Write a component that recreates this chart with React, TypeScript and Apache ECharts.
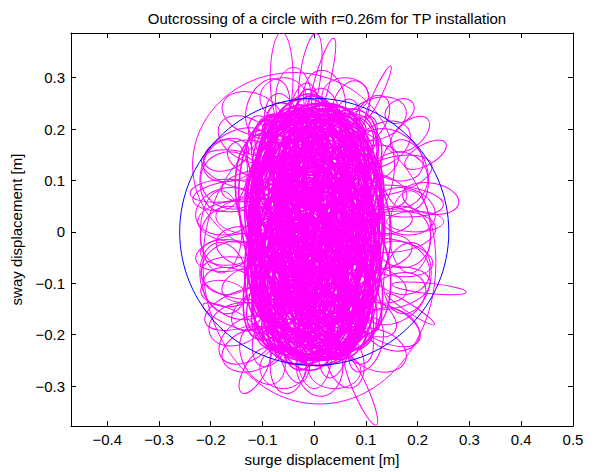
import React, { useEffect, useRef } from "react";
import * as echarts from "echarts";

const titleText = "Outcrossing of a circle with r=0.26m for TP installation";
const xName = "surge displacement [m]";
const yName = "sway displacement [m]";

const xTicks = [-0.4, -0.3, -0.2, -0.1, 0, 0.1, 0.2, 0.3, 0.4, 0.5];
const yTicks = [-0.3, -0.2, -0.1, 0, 0.1, 0.2, 0.3];
const xRange = [-0.47, 0.5];
const yRange = [-0.378, 0.387];

// circle: [centre surge, centre sway, radius] in m
const circle = [[0, 0, 0.26]];

// loops of the motion:
// [centre surge mm, centre sway mm, half-width mm, half-height mm, tilt deg]
const coreLoops: number[][] = [
  [0,10,60,120,5],[-20,-30,90,180,-10],[15,20,40,90,20],[-10,50,100,150,-5],[25,-40,70,160,15],[-35,5,50,200,0],
  [10,-70,80,130,-20],[-25,60,30,70,10],[40,30,95,190,5],[-15,-10,110,210,-15],[5,80,55,110,25],[-40,-60,65,140,10],
  [20,-100,45,100,-5],[-5,120,75,100,15],[-30,-120,85,110,-25],[35,90,60,140,-10],[0,-20,35,60,30],[-50,30,90,170,20],
  [30,-10,100,200,-5],[-20,100,50,90,0],[15,-150,60,80,10],[-45,-20,40,110,-20],[50,60,70,130,25],[-10,-80,95,160,5],
  [5,150,60,80,-15],[-30,70,80,160,10],[45,-80,55,120,-25],[-60,-90,50,120,15],[20,40,25,50,0],[-15,-170,70,70,20],
  [-5,0,115,225,3],[-25,-45,75,150,25],[30,110,45,90,-20],[-45,130,40,80,15],[55,-30,40,100,-10],[10,-120,100,130,5],
  [-5,40,65,180,-5],[25,-60,85,190,10],[-35,-100,60,90,-15],[40,150,55,70,25],[-55,60,45,140,-25],[15,80,95,120,0],
  [-20,-140,80,100,20],[35,0,50,150,-15],[-10,170,50,60,5],[0,-60,120,160,-10],[-40,10,100,220,10],[20,-180,50,60,-20],
  [45,70,35,80,15],[-30,-60,30,70,-5],[10,130,70,90,-25],[-50,-130,40,70,20],[25,-20,90,210,0],[-15,20,80,140,25],
  [50,-120,45,90,-15],[-5,-100,60,150,5],[-30,160,55,70,-10],[30,40,110,170,20],[-45,-30,70,190,-20],[5,190,45,50,10],
  [15,-50,30,120,15],[-25,120,90,110,-5],[40,-150,50,80,25],[-55,-5,35,90,5],[0,100,40,140,-15],[-20,-200,60,50,0],
  [20,10,70,100,-25],[-10,-30,45,130,10],[45,120,60,100,-5],[-35,90,65,120,20],[10,-90,75,100,-20],[-5,60,105,200,5],
  [35,-100,70,130,10],[-45,-170,55,70,-15],[0,140,85,90,20],[-25,-10,55,80,-10],[30,170,40,60,15],[-10,-130,40,90,-25],
  [-60,20,60,110,10],[55,10,45,120,-20],[-15,70,35,100,25],[20,-130,85,120,-5],[-30,-80,90,150,15],[10,50,50,180,-10],
  [-5,-10,95,170,20],[40,-50,60,90,-15],[-50,100,50,100,5],[15,200,50,45,-20],[-20,-110,70,130,0],[25,90,80,160,-25],
  [-35,40,40,60,15],[0,-160,90,90,-10],[45,40,30,90,5],[-15,110,100,140,-15],[20,-30,110,190,25],[-40,-120,45,110,-5],
  [5,30,75,220,10],[-25,-50,55,100,-20],[35,130,65,110,15],[-55,-60,40,80,-10],[10,-70,40,170,0],[-5,160,75,80,20],
  [30,-160,65,90,-15],[-30,20,85,160,5],[50,-10,65,170,-20],[-20,80,55,60,25],[0,-40,70,120,-5],[15,110,45,170,10],
  [-45,70,85,130,-10],[25,-90,100,150,20],[-10,-190,80,60,5],[40,100,35,70,-25],[-35,-140,70,100,15],[5,-5,50,100,-15],
  [-15,45,110,180,0],[35,-60,45,160,10],[-50,-40,55,140,-20],[10,160,95,90,15],[-25,-90,35,60,-5],[20,60,60,120,20],
  [0,90,70,160,-10],[-40,-10,80,120,25],[45,-110,60,110,-5],[-20,-160,50,90,10],[25,-45,75,140,-20],[-5,20,100,160,15],
  [30,50,85,150,-15],[-55,10,50,170,5],[10,-110,55,140,20],[-30,150,60,90,-25],[40,-170,55,70,0],[-10,-60,85,200,-10],
  [5,110,95,110,20],[-35,-30,60,160,-15],[50,90,45,110,10],[-20,40,45,130,-5],[15,-190,75,70,15],[-45,110,70,110,-20],
  [20,-10,60,200,5],[-10,-120,105,140,-15],[35,140,75,80,20],[-50,-80,65,110,0],[0,60,80,110,-25],[25,-140,40,110,10],
  [-25,-20,100,200,15],[10,30,40,160,-5],[-40,170,45,60,10],[45,-40,75,130,-15],[-15,90,60,170,20],[30,-80,60,80,-10],
  [-5,-140,60,110,25],[20,120,85,130,-5],[-35,60,75,90,10],[40,20,50,110,-20],[-20,-100,80,170,5],[0,180,60,70,-15],
  [15,-30,95,150,10],[-50,-150,35,60,-25],[35,80,70,190,15],[-10,-40,65,230,-5],[25,190,50,50,20],[-30,100,85,170,-10],
  [5,-80,110,180,0],[-25,-70,45,100,15],[40,-130,70,100,-20],[-45,80,55,150,10],[15,0,65,130,-15],[-5,130,50,120,25],
  [30,70,100,140,-5],[-40,-110,80,140,20],[10,-170,70,80,-10],[-15,0,35,110,5],[45,-160,40,60,15],[-30,40,65,200,-20],
  [0,-110,80,100,10],[20,150,55,100,-25],[-55,-110,60,90,5],[35,30,80,200,15],[-20,130,40,90,-5],[10,-60,55,170,20],
];

// loops filling the corners of the dense, squarish core
const cornerLoops: number[][] = [
  [-70,150,50,80,10],[70,150,50,80,-10],[-70,-150,50,80,-10],[70,-150,50,80,10],
  [-80,100,45,90,-15],[80,100,45,90,15],[-80,-100,45,90,15],[80,-100,45,90,-15],
  [-75,0,50,120,5],[75,0,50,120,-5],[-80,50,45,100,-10],[80,-50,45,100,10],[-80,-50,45,100,10],[80,50,45,100,-10],
  [-60,180,55,50,0],[60,180,55,50,0],[-60,-180,55,50,0],[60,-180,55,50,0],
  [-30,190,60,45,15],[30,-190,60,45,-15],[30,190,60,45,-10],[-30,-190,60,45,10],
  [-90,130,35,70,20],[90,-130,35,70,20],[-90,-130,35,70,-20],[90,130,35,70,-20],
  [-65,70,60,70,30],[65,-70,60,70,30],[-65,-70,60,70,-30],[65,70,60,70,-30],
  [-50,120,70,110,0],[50,-120,70,110,0],[50,120,70,110,5],[-50,-120,70,110,-5],
  [-85,-10,40,150,0],[85,10,40,150,0],[0,200,100,40,0],[0,-205,100,40,0],
  [-40,0,60,90,40],[40,0,60,90,-40],
];

// loops sitting on the edge of the dense core
const edgeLoops: number[][] = [
  [-60,200,35,70,10],[-20,215,30,75,-5],[20,210,35,70,8],[55,195,30,65,-15],[-90,170,30,60,25],[85,170,30,60,-25],
  [-110,140,60,35,-20],[105,130,60,35,20],[-115,90,65,30,10],[110,80,70,35,-10],
  [-120,30,70,35,0],[115,20,75,30,5],[-125,-30,65,40,-10],[120,-40,70,35,10],
  [-115,-100,65,35,15],[110,-100,70,35,-15],[-105,-150,60,35,30],[100,-160,65,35,-30],
  [-80,-200,35,65,-20],[-40,-220,30,75,10],[0,-225,35,80,0],[40,-215,30,70,-10],[75,-195,35,65,20],
];

// longer loops reaching out of the core
const haloLoops: number[][] = [
  [-130,180,60,40,-30],[-140,120,80,35,-15],[-150,70,85,30,5],[-145,20,80,40,0],
  [-150,-40,80,35,10],[-145,-90,75,40,-10],[-140,-150,75,35,20],[-130,-210,60,40,35],
  [130,170,60,40,30],[150,110,80,35,15],[160,60,90,30,-5],[150,0,85,40,5],
  [150,-50,80,35,-10],[145,-110,80,40,10],[140,-180,70,35,-25],
  [-90,240,40,60,-20],[-40,255,35,65,0],[20,255,40,60,10],[70,240,35,55,-15],[110,220,30,50,-30],
  [-100,-240,40,60,25],[-50,-255,35,60,-5],[10,-260,45,60,5],[60,-250,35,55,15],[100,-220,30,55,-20],
  [-150,150,70,45,30],[-160,100,60,55,-20],[-170,40,60,45,15],[-165,-10,55,60,-10],[-160,-70,60,50,25],
  [-155,-120,65,45,-30],[-150,-180,55,40,20],[-180,0,40,80,0],[-175,-90,45,70,10],[-175,110,45,70,-10],
  [150,150,65,45,-30],[160,100,60,55,20],[175,40,60,45,-15],[170,-10,55,60,10],[165,-70,60,50,-25],
  [155,-130,65,45,30],[150,-190,55,40,-20],[185,0,40,80,0],[180,-90,45,70,-10],[175,110,45,70,10],
  [-120,230,60,40,-20],[120,220,60,40,20],[-120,-230,60,40,20],[120,-230,60,40,-20],
  [-60,260,45,40,0],[60,265,45,35,0],[-60,-265,45,40,0],[40,-270,50,35,0],
];

// the few excursions far outside the cloud
const outerLoops: number[][] = [
  [-63,300,22,88,0],[-8,300,20,87,-8],[12,280,15,100,-15],
  [-40,130,195,180,0],[10,-60,225,275,0],
  [124,271,8,57,-25],[185,190,45,25,40],[215,150,45,20,30],[165,235,30,22,30],
  [225,65,55,30,-10],[195,20,55,20,0],[222,-110,72,10,-6],[186,-150,55,8,-33],
  [90,-308,74,14,-66],
  [-165,-165,55,15,-25],[-115,-270,20,50,-30],[-175,-120,45,25,-10],
  [-180,80,60,22,5],[-170,-40,50,25,0],[-170,150,45,30,20],
];

const fmt = (v: number) => (Math.abs(v) < 1e-9 ? "0" : v.toFixed(1).replace("-", "\u2212"));

const toMetres = (rows: number[][]) =>
  rows.map((r) => [r[0] / 1000, r[1] / 1000, r[2] / 1000, r[3] / 1000, r[4]]);

const makeLoopRenderer = (width: number) => (params: any, api: any) => {
  const c = api.coord([api.value(0), api.value(1)]);
  const rx = Math.abs(api.size([api.value(2), 0])[0]);
  const ry = Math.abs(api.size([0, api.value(3)])[1]);
  return {
    type: "ellipse",
    x: c[0],
    y: c[1],
    rotation: (api.value(4) * Math.PI) / 180,
    shape: { cx: 0, cy: 0, rx, ry },
    style: { fill: "none", stroke: "#ff00ff", lineWidth: width },
  };
};

export default function App() {
  const ref = useRef<HTMLDivElement>(null);
  useEffect(() => {
    if (!ref.current) return;
    const chart = echarts.init(ref.current, null, { renderer: "svg" });
    const font = "'Liberation Sans', Arial, Helvetica, sans-serif";
    const baseAxis = {
      type: "value" as const,
      splitLine: { show: false },
      axisLine: { show: true, onZero: false, lineStyle: { color: "#000", width: 1 } },
    };
    const loopSeries = (rows: number[][], width: number) => ({
      type: "custom",
      xAxisIndex: 0,
      yAxisIndex: 0,
      data: toMetres(rows),
      encode: { x: 0, y: 1 },
      renderItem: makeLoopRenderer(width),
      clip: true,
      z: 2,
    });
    chart.setOption({
      animation: false,
      backgroundColor: "#fff",
      title: {
        text: titleText,
        left: 322,
        textAlign: "center",
        top: 6,
        textStyle: { fontFamily: font, fontSize: 15, fontWeight: "normal", color: "#000" },
      },
      grid: { left: 71, right: 22, top: 33, bottom: 43, containLabel: false },
      xAxis: [
        {
          ...baseAxis,
          min: xRange[0],
          max: xRange[1],
          position: "bottom",
          name: xName,
          nameLocation: "middle",
          nameGap: 24,
          nameTextStyle: { fontFamily: font, fontSize: 15, color: "#000" },
          axisTick: { show: true, inside: true, length: 5, customValues: xTicks, lineStyle: { color: "#000" } },
          axisLabel: { show: true, margin: 6, customValues: xTicks, formatter: fmt, fontFamily: font, fontSize: 15, color: "#000" },
        },
        {
          ...baseAxis,
          min: xRange[0],
          max: xRange[1],
          position: "top",
          axisTick: { show: true, inside: true, length: 5, customValues: xTicks, lineStyle: { color: "#000" } },
          axisLabel: { show: false },
        },
      ],
      yAxis: [
        {
          ...baseAxis,
          min: yRange[0],
          max: yRange[1],
          position: "left",
          name: yName,
          nameLocation: "middle",
          nameGap: 41,
          nameTextStyle: { fontFamily: font, fontSize: 15, color: "#000" },
          axisTick: { show: true, inside: true, length: 5, customValues: yTicks, lineStyle: { color: "#000" } },
          axisLabel: { show: true, margin: 6, customValues: yTicks, formatter: fmt, fontFamily: font, fontSize: 15, color: "#000" },
        },
        {
          ...baseAxis,
          min: yRange[0],
          max: yRange[1],
          position: "right",
          axisTick: { show: true, inside: true, length: 5, customValues: yTicks, lineStyle: { color: "#000" } },
          axisLabel: { show: false },
        },
      ],
      series: [
        loopSeries(outerLoops, 1),
        loopSeries(haloLoops, 1),
        loopSeries(edgeLoops, 1),
        loopSeries(cornerLoops, 1.3),
        loopSeries(coreLoops, 1.6),
        {
          type: "custom",
          xAxisIndex: 0,
          yAxisIndex: 0,
          data: circle,
          encode: { x: 0, y: 1 },
          renderItem: (params: any, api: any) => {
            const c = api.coord([api.value(0), api.value(1)]);
            const r = api.value(2);
            const sx = Math.abs(api.size([r, 0])[0]);
            const sy = Math.abs(api.size([0, r])[1]);
            return {
              type: "ellipse",
              shape: { cx: c[0], cy: c[1], rx: sx, ry: sy },
              style: { fill: "none", stroke: "#0000ff", lineWidth: 1 },
            };
          },
          z: 3,
        },
      ],
    });
    return () => chart.dispose();
  }, []);
  return <div ref={ref} style={{ position: "fixed", left: 0, top: 0, width: 595, height: 472 }} />;
}
